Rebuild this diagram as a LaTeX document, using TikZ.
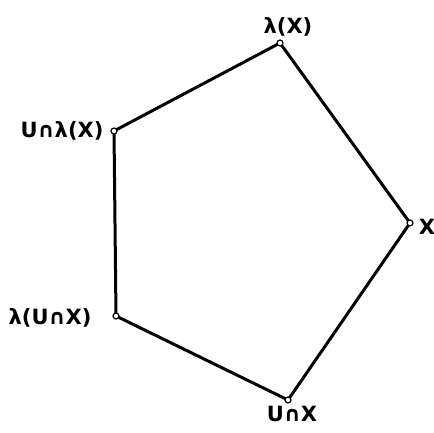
\documentclass[tikz,border=0pt]{standalone}
\usepackage{fontspec}
\setmainfont{DejaVu Sans}
\begin{document}
\begin{tikzpicture}[x=1pt,y=-1pt,
  edge/.style={line width=3pt,line join=round},
  vtx/.style={circle,draw,line width=1.2pt,fill=white,inner sep=0pt,minimum size=6pt},
  lbl/.style={font=\bfseries\fontsize{21}{21}\selectfont,inner sep=0pt}]
\useasboundingbox (0,0) rectangle (434,432);
\coordinate (t) at (280,43);
\coordinate (tl) at (114,131);
\coordinate (bl) at (116,316);
\coordinate (b) at (288,400);
\coordinate (r) at (410,223);
\draw[edge] (t) -- (r) -- (b) -- (bl) -- (tl) -- cycle;
\foreach \p in {t,tl,bl,b,r} \node[vtx] (v\p) at (\p) {};
\node[lbl] (lt) at (288,27) {λ(X)};
\node[lbl] (ltl) at (62,131) {U∩λ(X)};
\node[lbl] (lbl2) at (50,318) {λ(U∩X)};
\node[lbl] (lb) at (292,414) {U∩X};
\node[lbl] (lr) at (427,227) {X};
\end{tikzpicture}
\end{document}
